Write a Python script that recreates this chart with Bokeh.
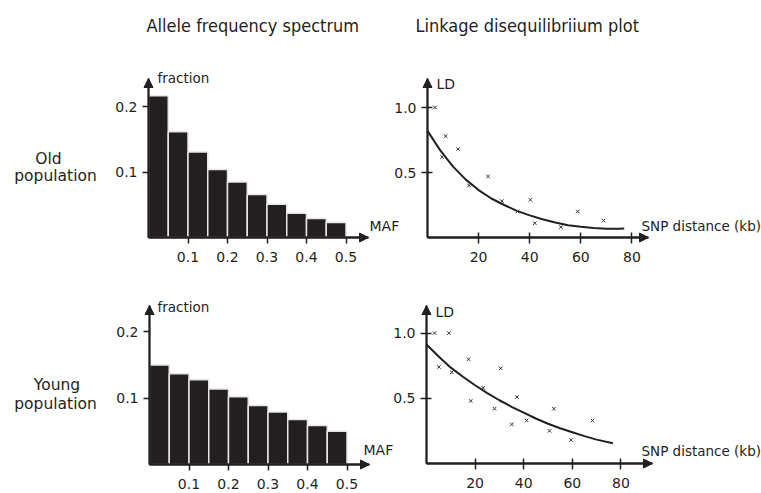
from bokeh.plotting import figure
from bokeh.models import (Label, Arrow, NormalHead, FixedTicker, PrintfTickFormatter,
                          ColumnDataSource, LinearAxis, Range1d)
from bokeh.embed import file_html
from bokeh.resources import INLINE

# ---------------- data ----------------
maf_bins = [0.025, 0.075, 0.125, 0.175, 0.225, 0.275, 0.325, 0.375, 0.425, 0.475]
old_fraction = [0.217, 0.162, 0.131, 0.104, 0.085, 0.066, 0.051, 0.037, 0.029, 0.023]
young_fraction = [0.150, 0.137, 0.128, 0.114, 0.102, 0.089, 0.079, 0.068, 0.059, 0.050]

maf_ticks = [0.1, 0.2, 0.3, 0.4, 0.5]
fraction_ticks = [0.1, 0.2]
dist_ticks = [20, 40, 60, 80]
ld_ticks = [0.5, 1.0]

old_snp_dist = [2.9, 7.1, 5.7, 12.0, 16.3, 23.7, 29.1, 35.2, 40.3, 42.0, 52.2, 58.8, 68.9]
old_snp_ld = [1.00, 0.78, 0.62, 0.68, 0.40, 0.47, 0.28, 0.20, 0.29, 0.11, 0.08, 0.20, 0.13]
old_fit_dist = [0, 5, 10, 15, 20, 25, 30, 35, 40, 45, 50, 55, 60, 65, 70, 75, 77]
old_fit_ld = [0.82, 0.67, 0.545, 0.445, 0.365, 0.30, 0.25, 0.205, 0.17, 0.14, 0.115,
              0.095, 0.082, 0.073, 0.068, 0.068, 0.07]

young_snp_dist = [3.3, 9.2, 5.1, 10.4, 17.3, 18.2, 23.3, 28.0, 30.5, 35.1, 37.2, 41.2,
                  50.6, 52.4, 59.5, 68.3]
young_snp_ld = [1.00, 1.00, 0.74, 0.70, 0.80, 0.48, 0.58, 0.42, 0.73, 0.30, 0.51, 0.33,
                0.25, 0.42, 0.18, 0.33]
young_fit_dist = [0, 5, 10, 15, 20, 25, 30, 35, 40, 45, 50, 55, 60, 65, 70, 76.7]
young_fit_ld = [0.913, 0.82, 0.735, 0.665, 0.60, 0.54, 0.485, 0.435, 0.39, 0.345,
                0.305, 0.27, 0.24, 0.21, 0.183, 0.156]

titles = ["Allele frequency spectrum", "Linkage disequilibriium plot"]

# ---------------- styling ----------------
INK = "#231f20"
FONT = "DejaVu Sans"
COND = "'DejaVu Sans Condensed', 'DejaVu Sans', sans-serif"
BIN_W = 0.05
W, H = 761, 493

p = figure(width=W, height=H, x_range=Range1d(0, W), y_range=Range1d(0, H),
           toolbar_location=None, output_backend="svg",
           x_axis_location=None, y_axis_location=None,
           min_border=0, min_border_left=0, min_border_right=0,
           min_border_top=0, min_border_bottom=0)
p.outline_line_color = None
p.grid.visible = False
p.background_fill_color = "white"
p.border_fill_color = "white"


class Panel:
    """One small chart; its own data ranges mapped onto the shared canvas."""

    def __init__(self, name, ax0, ay0, x_tip, y_tip, kx, ky):
        self.ax0, self.ay0, self.kx, self.ky = ax0, ay0, kx, ky
        self.xn, self.yn = name + "_x", name + "_y"
        p.extra_x_ranges[self.xn] = Range1d((0 - ax0) / kx, (W - ax0) / kx)
        p.extra_y_ranges[self.yn] = Range1d((ay0 - H) / ky, ay0 / ky)
        self.x_max = (x_tip - ax0) / kx
        self.y_max = (ay0 - y_tip) / ky
        self.rn = dict(x_range_name=self.xn, y_range_name=self.yn)

    def axes(self, xticks, yticks, yfmt=None, tick_in=0, x_standoff=8):
        xa = LinearAxis(fixed_location=0, bounds=(0, self.x_max),
                        ticker=FixedTicker(ticks=xticks), **self.rn)
        ya = LinearAxis(fixed_location=0, bounds=(0, self.y_max),
                        ticker=FixedTicker(ticks=yticks), **self.rn)
        if yfmt:
            ya.formatter = PrintfTickFormatter(format=yfmt)
        for ax in (xa, ya):
            ax.axis_line_color = INK
            ax.axis_line_width = 1.8
            ax.major_tick_line_color = INK
            ax.major_tick_line_width = 1.5
            ax.major_tick_out = 6
            ax.major_tick_in = tick_in
            ax.minor_tick_line_color = None
            ax.major_label_text_font = FONT
            ax.major_label_text_font_size = "14px"
            ax.major_label_text_color = INK
            ax.major_label_standoff = 5
        xa.major_label_standoff = x_standoff
        p.add_layout(xa, "below")
        p.add_layout(ya, "left")
        head = dict(size=9, fill_color=INK, line_color=INK)
        p.add_layout(Arrow(end=NormalHead(**head), x_start=0, y_start=0,
                           x_end=self.x_max, y_end=0, line_color=INK, line_width=1.8,
                           **self.rn))
        p.add_layout(Arrow(end=NormalHead(**head), x_start=0, y_start=0,
                           x_end=0, y_end=self.y_max, line_color=INK, line_width=1.8,
                           **self.rn))

    def label(self, rx, ry, text, size, align="left", font=FONT):
        x = (rx - self.ax0) / self.kx
        y = (self.ay0 - ry) / self.ky
        p.add_layout(Label(x=x, y=y, text=text, text_font=font,
                           text_font_size=size, text_color=INK,
                           text_align=align, text_baseline="alphabetic", **self.rn))

    def histogram(self, values):
        src = ColumnDataSource(dict(x=maf_bins, top=values))
        p.vbar(x="x", top="top", width=BIN_W, bottom=0, source=src,
               fill_color=INK, line_color="#e6e6e6", line_width=1.5, **self.rn)

    def ld_plot(self, dist, ld, fit_d, fit_ld):
        p.line(fit_d, fit_ld, line_color=INK, line_width=2, **self.rn)
        p.scatter(dist, ld, marker="x", size=5, line_color="#333333", line_width=1,
                  **self.rn)


# top-left : old population, allele frequency spectrum
tl = Panel("tl", 148, 237, 368, 78, 395.0, 653.0)
tl.histogram(old_fraction)
tl.axes(maf_ticks, fraction_ticks)
tl.label(157, 77, "fraction", "13.5px")
tl.label(369, 225, "MAF", "14px")
tl.label(146, 25, titles[0], "18px", font=COND)
tl.label(48, 158, "Old", "15.5px", align="center")
tl.label(55, 175, "population", "15.5px", align="center")

# top-right : old population, LD
tr = Panel("tr", 427, 237, 648, 78, 2.555, 130.0)
tr.ld_plot(old_snp_dist, old_snp_ld, old_fit_dist, old_fit_ld)
tr.axes(dist_ticks, ld_ticks, yfmt="%.1f", tick_in=5)
tr.label(436, 83, "LD", "14px")
tr.label(641, 225, "SNP distance (kb)", "13.5px")
tr.label(415, 25, titles[1], "18px", font=COND)

# bottom-left : young population, allele frequency spectrum
bl = Panel("bl", 149, 464, 369, 305, 395.0, 663.0)
bl.histogram(young_fraction)
bl.axes(maf_ticks, fraction_ticks)
bl.label(157, 306, "fraction", "13.5px")
bl.label(363, 449, "MAF", "14px")
bl.label(56.5, 384, "Young", "15.5px", align="center")
bl.label(55, 403, "population", "15.5px", align="center")

# bottom-right : young population, LD
br = Panel("br", 426, 463, 652, 305, 2.43, 130.4)
br.ld_plot(young_snp_dist, young_snp_ld, young_fit_dist, young_fit_ld)
br.axes(dist_ticks, ld_ticks, yfmt="%.1f", tick_in=5)
br.label(435, 311, "LD", "14px")
br.label(641, 450, "SNP distance (kb)", "13.5px")

open("out.html", "w").write(file_html(p, INLINE))
